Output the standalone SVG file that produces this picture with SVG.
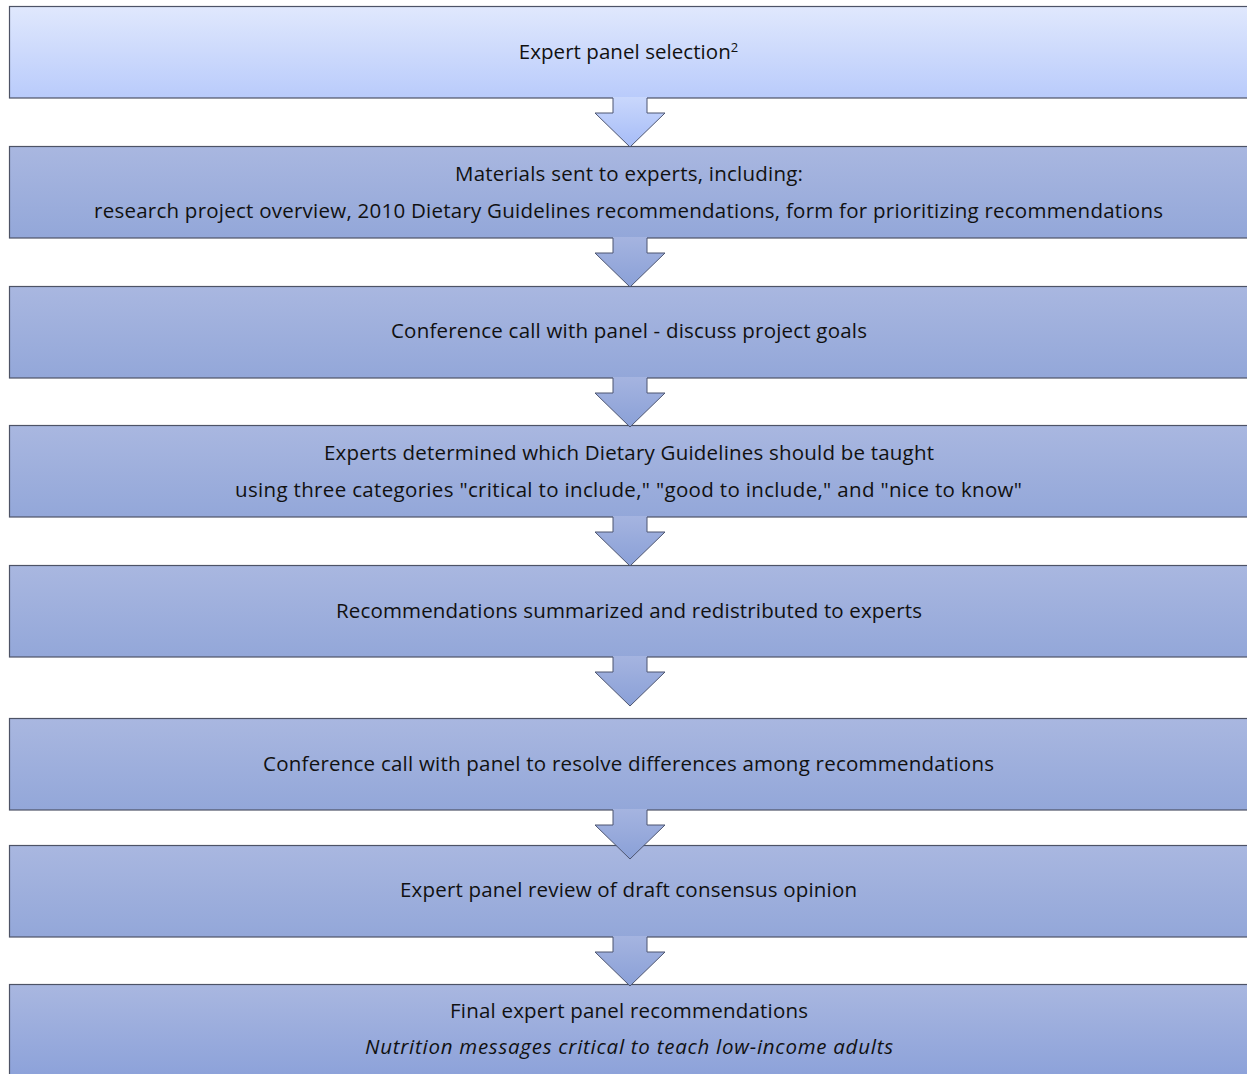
<svg xmlns="http://www.w3.org/2000/svg" width="1247" height="1074" viewBox="0 0 1247 1074">
<defs>
<linearGradient id="gTop" x1="0" y1="0" x2="0" y2="1"><stop offset="0" stop-color="#e0e8fd"/><stop offset="1" stop-color="#b9cbfb"/></linearGradient>
<linearGradient id="gBox" x1="0" y1="0" x2="0" y2="1"><stop offset="0" stop-color="#a9b7e0"/><stop offset="1" stop-color="#93a7d9"/></linearGradient>
<linearGradient id="gLast" x1="0" y1="0" x2="0" y2="1"><stop offset="0" stop-color="#a9b7e0"/><stop offset="1" stop-color="#8aa0d9"/></linearGradient>
<linearGradient id="gA1" x1="0" y1="0" x2="0" y2="1"><stop offset="0" stop-color="#c9d7fc"/><stop offset="1" stop-color="#a6bcf7"/></linearGradient>
<linearGradient id="gA" x1="0" y1="0" x2="0" y2="1"><stop offset="0" stop-color="#a5b4e0"/><stop offset="1" stop-color="#8aa0d7"/></linearGradient>
<style>
.box{stroke:#4d5366;stroke-width:1.2}
.t{font-family:"Open Sans","Liberation Sans",sans-serif;font-size:20.5px;fill:#111;text-anchor:middle}
.i{font-style:italic}
.ao{fill:none;stroke:#4d5570;stroke-width:1}
</style>
</defs>
<g id="n1"><rect class="box" x="9.5" y="6.5" width="1245" height="91.5" fill="url(#gTop)"/>
<text class="t" x="628.5" y="59"><tspan textLength="212">Expert panel selection</tspan><tspan font-size="13" dy="-7">2</tspan></text></g>
<g id="n2"><rect class="box" x="9.5" y="146.5" width="1245" height="91.5" fill="url(#gBox)"/>
<text class="t" x="629" y="181" textLength="348">Materials sent to experts, including:</text>
<text class="t" x="628.5" y="218" textLength="1069">research project overview, 2010 Dietary Guidelines recommendations, form for prioritizing recommendations</text></g>
<g id="n3"><rect class="box" x="9.5" y="286.5" width="1245" height="91.5" fill="url(#gBox)"/>
<text class="t" x="629" y="338" textLength="476">Conference call with panel - discuss project goals</text></g>
<g id="n4"><rect class="box" x="9.5" y="425.5" width="1245" height="91.5" fill="url(#gBox)"/>
<text class="t" x="629" y="460" textLength="610">Experts determined which Dietary Guidelines should be taught</text>
<text class="t" x="628.5" y="497" textLength="787">using three categories "critical to include," "good to include," and "nice to know"</text></g>
<g id="n5"><rect class="box" x="9.5" y="565.5" width="1245" height="91.5" fill="url(#gBox)"/>
<text class="t" x="629" y="618" textLength="586">Recommendations summarized and redistributed to experts</text></g>
<g id="n6"><rect class="box" x="9.5" y="718.5" width="1245" height="91.5" fill="url(#gBox)"/>
<text class="t" x="628.5" y="771" textLength="731">Conference call with panel to resolve differences among recommendations</text></g>
<g id="n7"><rect class="box" x="9.5" y="845.5" width="1245" height="91.5" fill="url(#gBox)"/>
<text class="t" x="628.5" y="897" textLength="457">Expert panel review of draft consensus opinion</text></g>
<g id="n8"><rect class="box" x="9.5" y="984.5" width="1245" height="100" fill="url(#gLast)"/>
<text class="t" x="629" y="1018" textLength="358">Final expert panel recommendations</text>
<text class="t i" x="629" y="1054" textLength="528">Nutrition messages critical to teach low-income adults</text></g>
<g id="connectors">
<g transform="translate(0,98)"><path d="M613,-1V15H595L630,49L665,15H647V-1Z" fill="url(#gA1)"/><path class="ao" d="M613,0V15H595L630,49L665,15H647V0"/></g>
<g transform="translate(0,238)"><path d="M613,-1V15H595L630,49L665,15H647V-1Z" fill="url(#gA)"/><path class="ao" d="M613,0V15H595L630,49L665,15H647V0"/></g>
<g transform="translate(0,378)"><path d="M613,-1V15H595L630,49L665,15H647V-1Z" fill="url(#gA)"/><path class="ao" d="M613,0V15H595L630,49L665,15H647V0"/></g>
<g transform="translate(0,517)"><path d="M613,-1V15H595L630,49L665,15H647V-1Z" fill="url(#gA)"/><path class="ao" d="M613,0V15H595L630,49L665,15H647V0"/></g>
<g transform="translate(0,657)"><path d="M613,-1V15H595L630,49L665,15H647V-1Z" fill="url(#gA)"/><path class="ao" d="M613,0V15H595L630,49L665,15H647V0"/></g>
<g transform="translate(0,810)"><path d="M613,-1V15H595L630,49L665,15H647V-1Z" fill="url(#gA)"/><path class="ao" d="M613,0V15H595L630,49L665,15H647V0"/></g>
<g transform="translate(0,937)"><path d="M613,-1V15H595L630,49L665,15H647V-1Z" fill="url(#gA)"/><path class="ao" d="M613,0V15H595L630,49L665,15H647V0"/></g>
</g>
</svg>
